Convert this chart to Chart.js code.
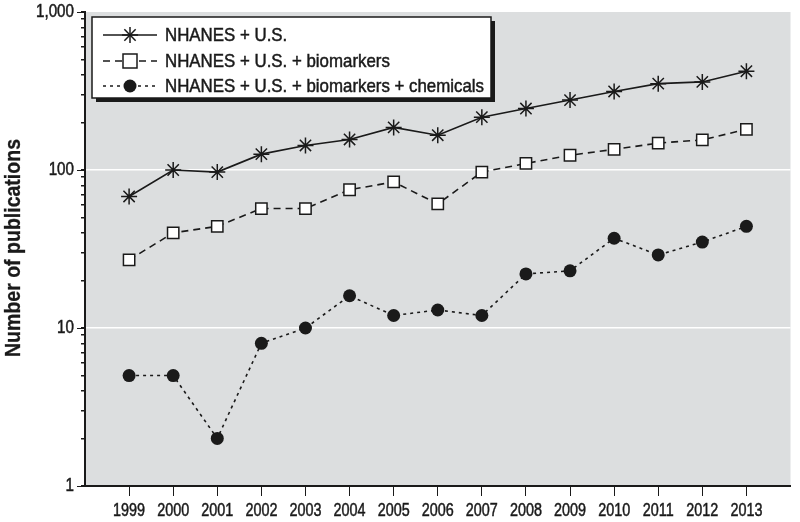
<!DOCTYPE html>
<html>
<head>
<meta charset="utf-8">
<script src="https://cdn.jsdelivr.net/npm/chart.js@4/dist/chart.umd.min.js"></script>
<style>
  html, body { margin: 0; padding: 0; background: #fff; }
  #wrap { width: 800px; height: 522px; }
</style>
</head>
<body>
<div id="wrap"><canvas id="chart" width="800" height="522"></canvas></div>
<script>
// data
var years = [1999, 2000, 2001, 2002, 2003, 2004, 2005, 2006, 2007, 2008, 2009, 2010, 2011, 2012, 2013];
var nhanesUS = [68, 100, 97, 126, 143, 156, 186, 166, 216, 245, 277, 314, 352, 361, 422];
var nhanesBiomarkers = [27, 40, 44, 57, 57, 75, 84, 61, 97, 110, 124, 135, 148, 155, 181];
var nhanesChemicals = [5, 5, 2, 8, 10, 16, 12, 13, 12, 22, 23, 37, 29, 35, 44];
var seriesLabels = ["NHANES + U.S.", "NHANES + U.S. + biomarkers", "NHANES + U.S. + biomarkers + chemicals"];
var yMajorTicks = [1, 10, 100, 1000];
var yMajorLabels = ["1", "10", "100", "1,000"];
var yTitle = "Number of publications";

var FONT = "'Liberation Sans', Arial, sans-serif";
var INK = "#1a1a1a";

function toPoints(vals) {
  return vals.map(function (v, i) { return { x: years[i], y: v }; });
}

// minor + major ticks for the log axis
var yAllTicks = [];
for (var d = 1; d < 1000; d *= 10) {
  for (var m = 1; m < 10; m++) yAllTicks.push(d * m);
}
yAllTicks.push(1000);

// draws text squeezed sideways so it looks like a condensed face
// (a thin stroke gives it the heavier look of the original)
function narrowText(ctx, text, x, y, squeeze, align, stroke) {
  ctx.save();
  ctx.translate(x, y);
  ctx.scale(squeeze, 1);
  ctx.textAlign = align || "left";
  ctx.fillText(text, 0, 0);
  if (stroke) {
    ctx.lineWidth = stroke;
    ctx.strokeStyle = ctx.fillStyle;
    ctx.setLineDash([]);
    ctx.strokeText(text, 0, 0);
  }
  ctx.restore();
}

// gray plot background
var plotBg = {
  id: "plotBg",
  beforeDraw: function (chart) {
    var a = chart.chartArea, ctx = chart.ctx;
    ctx.save();
    ctx.fillStyle = "#dcdedf";
    ctx.fillRect(a.left, a.top, a.right - a.left, a.bottom - a.top);
    ctx.restore();
  }
};

// decade ticks, tick labels and the y title
var axisText = {
  id: "axisText",
  afterDraw: function (chart) {
    var xs = chart.scales.x, ys = chart.scales.y, ctx = chart.ctx;
    var left = chart.chartArea.left, a = chart.chartArea;
    ctx.save();
    ctx.strokeStyle = INK;
    ctx.lineWidth = 1;
    yMajorTicks.forEach(function (v) {
      var py = Math.round(ys.getPixelForValue(v)) + 0.5;
      ctx.beginPath();
      ctx.moveTo(left - 8, py);
      ctx.lineTo(left, py);
      ctx.stroke();
    });

    ctx.fillStyle = INK;
    ctx.textBaseline = "middle";

    // year labels, "1999" about 32px wide
    ctx.font = "18px " + FONT;
    var sx = 32 / ctx.measureText("1999").width;
    years.forEach(function (yr) {
      narrowText(ctx, String(yr), xs.getPixelForValue(yr), a.bottom + 25, sx, "center", 0.5);
    });

    // decade labels, "1,000" about 38px wide
    ctx.font = "18px " + FONT;
    var sy = 38 / ctx.measureText("1,000").width;
    yMajorTicks.forEach(function (v, i) {
      narrowText(ctx, yMajorLabels[i], left - 11, ys.getPixelForValue(v) + 0.5, sy, "right", 0.5);
    });

    // rotated title, about 218px long
    ctx.font = "bold 22px " + FONT;
    var st = 218 / ctx.measureText(yTitle).width;
    ctx.save();
    ctx.translate(14, 248);
    ctx.rotate(-Math.PI / 2);
    narrowText(ctx, yTitle, 0, 0, st, "center", 0.3);
    ctx.restore();
    ctx.restore();
  }
};

function drawMarker(ctx, style, x, y) {
  ctx.save();
  ctx.strokeStyle = INK;
  ctx.lineWidth = 1.5;
  ctx.setLineDash([]);
  if (style === "star") {
    var r = 8;
    for (var k = 0; k < 4; k++) {
      var ang = k * Math.PI / 4;
      ctx.beginPath();
      ctx.moveTo(x - r * Math.cos(ang), y - r * Math.sin(ang));
      ctx.lineTo(x + r * Math.cos(ang), y + r * Math.sin(ang));
      ctx.stroke();
    }
  } else if (style === "rect") {
    ctx.fillStyle = "#fff";
    ctx.fillRect(x - 7, y - 7, 14, 14);
    ctx.strokeRect(x - 7, y - 7, 14, 14);
  } else {
    ctx.fillStyle = INK;
    ctx.beginPath();
    ctx.arc(x, y, 6.5, 0, Math.PI * 2);
    ctx.fill();
  }
  ctx.restore();
}

// legend box with drop shadow
var boxLegend = {
  id: "boxLegend",
  afterDraw: function (chart) {
    var ctx = chart.ctx;
    var bx = 92, by = 17, bw = 399, bh = 81;
    ctx.save();
    ctx.fillStyle = INK;
    ctx.fillRect(bx + 4, by + 4, bw, bh);
    ctx.fillStyle = "#fff";
    ctx.fillRect(bx, by, bw, bh);
    ctx.strokeStyle = INK;
    ctx.lineWidth = 1.5;
    ctx.strokeRect(bx, by, bw, bh);
    ctx.font = "19px " + FONT;
    var sq = 319 / ctx.measureText(seriesLabels[2]).width;
    var rows = [35, 61, 86];
    var styles = ["star", "rect", "circle"];
    chart.data.datasets.forEach(function (ds, i) {
      var ry = rows[i];
      ctx.strokeStyle = INK;
      ctx.lineWidth = 1.5;
      ctx.setLineDash(ds.borderDash || []);
      ctx.beginPath();
      ctx.moveTo(103, ry);
      ctx.lineTo(157, ry);
      ctx.stroke();
      drawMarker(ctx, styles[i], 130, ry);
      ctx.setLineDash([]);
      ctx.fillStyle = INK;
      ctx.textBaseline = "middle";
      narrowText(ctx, ds.label, 165, ry + 1, sq, "left", 0.5);
    });
    ctx.restore();
  }
};

new Chart(document.getElementById("chart"), {
  type: "line",
  data: {
    datasets: [
      {
        label: seriesLabels[0],
        data: toPoints(nhanesUS),
        borderColor: INK,
        borderWidth: 1.6,
        pointStyle: "star",
        pointRadius: 8,
        pointBorderWidth: 1.5,
        pointBorderColor: INK,
        pointBackgroundColor: INK
      },
      {
        label: seriesLabels[1],
        data: toPoints(nhanesBiomarkers),
        borderColor: INK,
        borderWidth: 1.6,
        borderDash: [7, 5],
        pointStyle: "rect",
        pointRadius: 8,
        pointBorderWidth: 1.5,
        pointBorderColor: INK,
        pointBackgroundColor: "#fff"
      },
      {
        label: seriesLabels[2],
        data: toPoints(nhanesChemicals),
        borderColor: INK,
        borderWidth: 1.6,
        borderDash: [3, 4],
        pointStyle: "circle",
        pointRadius: 6.5,
        pointBorderWidth: 0,
        pointBackgroundColor: INK
      }
    ]
  },
  options: {
    responsive: false,
    animation: false,
    layout: { padding: { top: 12, right: 2, left: 0, bottom: 0 } },
    plugins: { legend: { display: false }, tooltip: { enabled: false } },
    elements: { line: { tension: 0 } },
    scales: {
      x: {
        type: "linear",
        min: 1998,
        max: 2014,
        afterBuildTicks: function (scale) {
          scale.ticks = years.map(function (y) { return { value: y }; });
        },
        afterFit: function (scale) { scale.height = 36; },
        border: { color: INK, width: 2 },
        grid: { drawOnChartArea: false, tickLength: 10, tickColor: INK, lineWidth: 1 },
        ticks: { display: false }
      },
      y: {
        type: "logarithmic",
        min: 1,
        max: 1000,
        afterBuildTicks: function (scale) {
          scale.ticks = yAllTicks.map(function (v) { return { value: v }; });
        },
        afterFit: function (scale) { scale.width = 85; },
        border: { color: INK, width: 2 },
        grid: {
          color: function (c) {
            var v = c.tick && c.tick.value;
            return (v === 10 || v === 100) ? "#ffffff" : "rgba(0,0,0,0)";
          },
          lineWidth: 1.5,
          tickColor: INK,
          tickLength: 4
        },
        ticks: { display: false, autoSkip: false }
      }
    }
  },
  plugins: [plotBg, axisText, boxLegend]
});
</script>
</body>
</html>
